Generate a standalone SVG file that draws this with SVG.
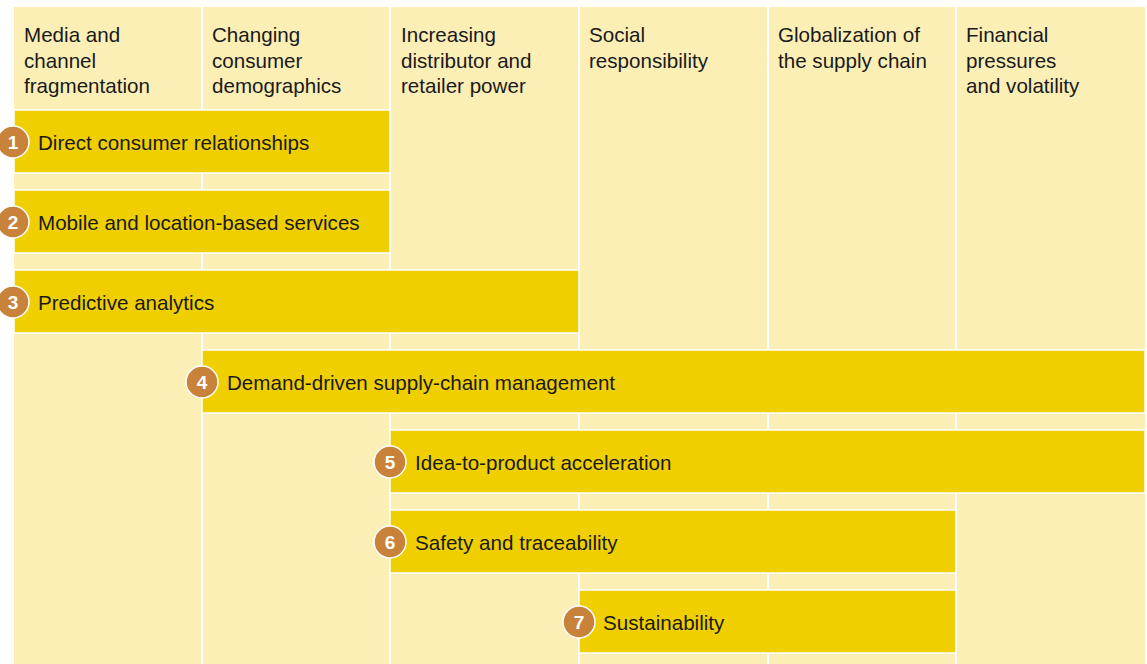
<svg xmlns="http://www.w3.org/2000/svg" width="1147" height="664" viewBox="0 0 1147 664">
<style>
.col{fill:#FCEFB6}
.div{stroke:#FFFFFF;stroke-width:2}
.bar{fill:#F0CF00;stroke:#FFFFFF;stroke-width:1.5}
.hd{font-family:"Liberation Sans",Arial,sans-serif;font-size:20.6px;fill:#1a1a1a}
.lb{font-family:"Liberation Sans",Arial,sans-serif;font-size:20.6px;fill:#1a1a1a}
.c{fill:#C9823A;stroke:#FFFFFF;stroke-width:1.5}
.n{font-family:"Liberation Sans",Arial,sans-serif;font-size:19px;font-weight:bold;fill:#FFFFFF;text-anchor:middle}
</style>
<rect x="0" y="0" width="1147" height="664" fill="#FFFFFF"/>
<g id="columns">
<rect class="col" x="14" y="7" width="1131" height="657"/>
<line class="div" x1="202" y1="7" x2="202" y2="664"/>
<line class="div" x1="390" y1="7" x2="390" y2="664"/>
<line class="div" x1="579" y1="7" x2="579" y2="664"/>
<line class="div" x1="768" y1="7" x2="768" y2="664"/>
<line class="div" x1="956" y1="7" x2="956" y2="664"/>
</g>
<g id="headers">
<text class="hd" x="24" y="42">Media and</text>
<text class="hd" x="24" y="67.5">channel</text>
<text class="hd" x="24" y="93">fragmentation</text>
<text class="hd" x="212" y="42">Changing</text>
<text class="hd" x="212" y="67.5">consumer</text>
<text class="hd" x="212" y="93">demographics</text>
<text class="hd" x="401" y="42">Increasing</text>
<text class="hd" x="401" y="67.5">distributor and</text>
<text class="hd" x="401" y="93">retailer power</text>
<text class="hd" x="589" y="42">Social</text>
<text class="hd" x="589" y="67.5">responsibility</text>
<text class="hd" x="778" y="42">Globalization of</text>
<text class="hd" x="778" y="67.5">the supply chain</text>
<text class="hd" x="966" y="42">Financial</text>
<text class="hd" x="966" y="67.5">pressures</text>
<text class="hd" x="966" y="93">and volatility</text>
</g>
<g id="bar1">
<rect class="bar" x="14" y="110" width="376" height="63"/>
<circle class="c" cx="13" cy="142" r="16"/>
<text class="n" x="13" y="149">1</text>
<text class="lb" x="38" y="149.5">Direct consumer relationships</text>
</g>
<g id="bar2">
<rect class="bar" x="14" y="190" width="376" height="63"/>
<circle class="c" cx="13" cy="222" r="16"/>
<text class="n" x="13" y="229">2</text>
<text class="lb" x="38" y="229.5">Mobile and location-based services</text>
</g>
<g id="bar3">
<rect class="bar" x="14" y="270" width="565" height="63"/>
<circle class="c" cx="13" cy="302" r="16"/>
<text class="n" x="13" y="309">3</text>
<text class="lb" x="38" y="309.5">Predictive analytics</text>
</g>
<g id="bar4">
<rect class="bar" x="202" y="350" width="943" height="63"/>
<circle class="c" cx="202" cy="382" r="16"/>
<text class="n" x="202" y="389">4</text>
<text class="lb" x="227" y="389.5">Demand-driven supply-chain management</text>
</g>
<g id="bar5">
<rect class="bar" x="390" y="430" width="755" height="63"/>
<circle class="c" cx="390" cy="462" r="16"/>
<text class="n" x="390" y="469">5</text>
<text class="lb" x="415" y="469.5">Idea-to-product acceleration</text>
</g>
<g id="bar6">
<rect class="bar" x="390" y="510" width="566" height="63"/>
<circle class="c" cx="390" cy="542" r="16"/>
<text class="n" x="390" y="549">6</text>
<text class="lb" x="415" y="549.5">Safety and traceability</text>
</g>
<g id="bar7">
<rect class="bar" x="579" y="590" width="377" height="63"/>
<circle class="c" cx="579" cy="622" r="16"/>
<text class="n" x="579" y="629">7</text>
<text class="lb" x="603" y="629.5">Sustainability</text>
</g>
<g id="connectors"></g>
</svg>
